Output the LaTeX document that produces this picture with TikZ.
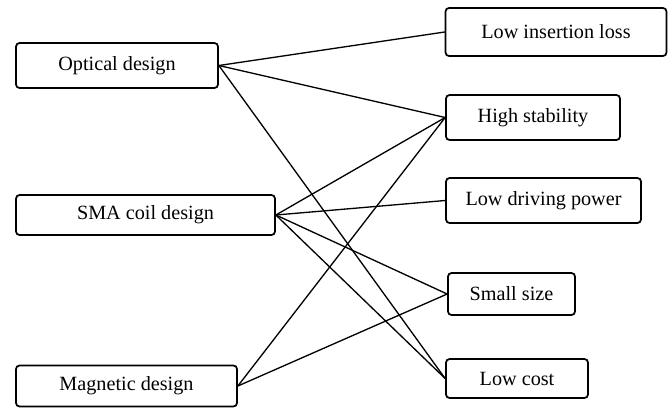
\documentclass[tikz,border=0pt]{standalone}
\usepackage{fontspec}
\setmainfont{Liberation Serif}
\begin{document}
\begin{tikzpicture}[x=0.02cm, y=-0.02cm, font=\fontsize{11.5}{13}\selectfont, line join=round, line cap=round,
    box/.style={draw, line width=1pt, rounded corners=2pt, inner sep=0pt}]
				\useasboundingbox (0,0) rectangle (668,407);
				% left: design parts
				\node[box, minimum width=4.04cm, minimum height=0.9cm] (opt) at (117,65.5) {Optical design};
				\node[box, minimum width=5.18cm, minimum height=0.8cm] (sma) at (145.5,215) {SMA coil design};
				\node[box, minimum width=4.42cm, minimum height=0.82cm] (mag) at (126.5,386) {Magnetic design};
				% right: properties
				\node[box, minimum width=4.42cm, minimum height=0.96cm] (loss) at (556,32) {Low insertion loss};
				\node[box, minimum width=3.48cm, minimum height=0.9cm] (stab) at (533,117.5) {High stability};
				\node[box, minimum width=3.9cm, minimum height=0.9cm] (power) at (543.5,200.5) {Low driving power};
				\node[box, minimum width=2.54cm, minimum height=0.84cm] (size) at (511.5,294) {Small size};
				\node[box, minimum width=2.84cm, minimum height=0.78cm] (cost) at (517,378.5) {Low cost};
				\foreach \a/\b in {opt/loss, opt/stab, opt/cost, sma/stab, sma/power, sma/size, sma/cost, mag/stab, mag/size}
				\draw[line width=0.75pt] (\a.east)--(\b.west);
		\end{tikzpicture}
\end{document}
